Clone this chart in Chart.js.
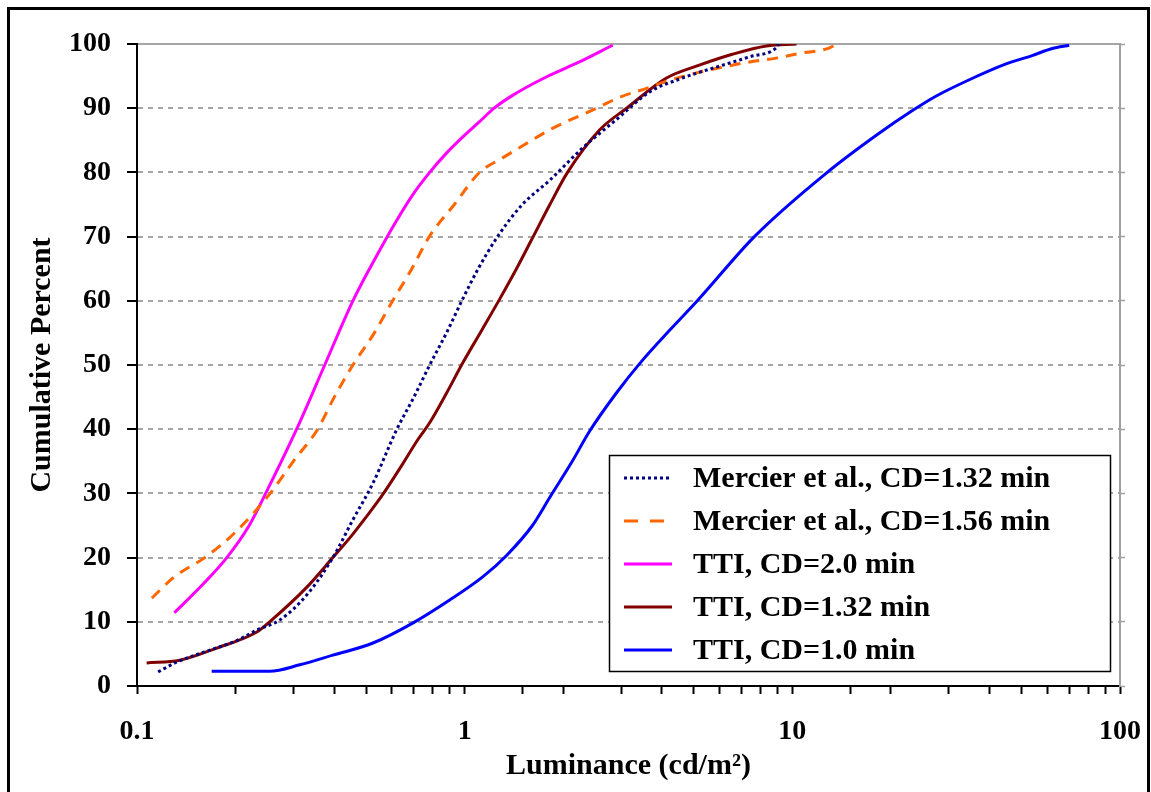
<!DOCTYPE html>
<html><head><meta charset="utf-8">
<script src="https://cdn.jsdelivr.net/npm/chart.js@4"></script>
<style>html,body{margin:0;padding:0;background:#fff}canvas{display:block}</style>
</head><body>
<canvas id="c" width="1151" height="792"></canvas>
<script>
// ---- data (luminance cd/m2, cumulative percent) ----
const seriesLabels = ['Mercier et al., CD=1.32 min','Mercier et al., CD=1.56 min','TTI, CD=2.0 min','TTI, CD=1.32 min','TTI, CD=1.0 min'];

const mercier132Lum = [0.116,0.132,0.167,0.2,0.232,0.273,0.33,0.396,0.456,0.525,0.621,0.70,0.782,0.88,0.98,1.1,1.26,1.5,1.82,2.29,2.9,3.66,4.62,5.86,7.4,8.93,9.1];
const mercier132Pct = [2.2,3.7,5.6,7.0,8.7,10.3,14.2,20,25.9,31.6,40,45,50,55,60,65,70,75,78.8,83.8,88.2,92.5,94.7,96.4,98,99.4,100];

const mercier156Lum = [0.111,0.13,0.161,0.2,0.255,0.30,0.356,0.40,0.456,0.53,0.603,0.69,0.78,0.93,1.11,1.30,1.52,1.86,2.53,2.97,3.59,4.31,5.1,6.12,7.4,8.93,10.7,13.0,13.6];
const mercier156Pct = [13.7,17,20,24,30,35,40,45,50,55,60,65,70,75,80,82.2,84.3,86.9,90,91.7,93.1,94.5,95.5,96.4,97.2,97.8,98.6,99.4,100];

const tti20Lum = [0.13,0.16,0.188,0.22,0.247,0.307,0.374,0.456,0.551,0.62,0.694,0.782,0.88,1.0,1.11,1.23,1.40,1.78,2.24,2.83];
const tti20Pct = [11.4,16,20,25,30,40,50,60,67.9,72.5,76.5,80,83,85.8,87.9,90,92,94.9,97.2,99.8];

const tti132Lum = [0.107,0.135,0.175,0.232,0.254,0.33,0.396,0.45,0.50,0.562,0.647,0.72,0.782,0.88,0.986,1.13,1.28,1.45,1.6,1.82,2.06,2.58,3.12,4.13,5.2,6.56,8.33,10.3];
const tti132Pct = [3.6,4.0,5.9,8.4,10,15.4,20,23.3,26.3,29.8,34.6,38.4,41,45.6,50.3,55.5,60.3,65.3,69.5,75,80,86.6,90,94.7,96.7,98.4,99.7,100];

const tti10Lum = [0.169,0.254,0.314,0.396,0.525,0.694,0.90,1.135,1.34,1.61,1.82,2.13,2.40,2.90,3.47,4.22,5.13,7.66,12.7,18.4,23.2,27.5,33.9,44.9,53.9,62.1,70];
const tti10Pct = [2.3,2.3,3.3,4.8,6.7,9.8,13.4,17,20.3,25,29.4,35,39.6,45.6,50.6,55.4,60,70,79.9,86.1,89.6,91.9,94.2,96.9,98.2,99.3,99.8];

const yTickValues = [0,10,20,30,40,50,60,70,80,90,100];
const xTickLabels = ['0.1','1','10','100'];
const xAxisTitle = 'Luminance (cd/m²)';
const yAxisTitle = 'Cumulative Percent';

// ---- styling ----
const FONT = "'Liberation Serif','Times New Roman',serif";
const zip = (xs, ys) => xs.map((x, i) => ({x, y: ys[i]}));
Chart.defaults.color = '#000';

const styles = [
  {color:'#000080', dash:[3,3]},
  {color:'#FF6600', dash:[11,8]},
  {color:'#FF00FF', dash:[]},
  {color:'#800000', dash:[]},
  {color:'#0000FF', dash:[]}
];
const seriesData = [
  zip(mercier132Lum, mercier132Pct),
  zip(mercier156Lum, mercier156Pct),
  zip(tti20Lum, tti20Pct),
  zip(tti132Lum, tti132Pct),
  zip(tti10Lum, tti10Pct)
];

const datasets = seriesLabels.map((label, i) => ({
  label,
  data: seriesData[i],
  borderColor: styles[i].color,
  backgroundColor: styles[i].color,
  borderDash: styles[i].dash,
  borderWidth: 3,
  pointRadius: 0,
  cubicInterpolationMode: 'monotone',
  fill: false
}));

const decorPlugin = {
  id: 'decor',
  beforeDraw(chart) {
    const c = chart.ctx;
    c.save();
    c.fillStyle = '#fff';
    c.fillRect(0, 0, chart.width, chart.height);
    c.restore();
  },
  afterDraw(chart) {
    const c = chart.ctx;
    c.save();
    const bx = 609, by = 455, bw = 501, bh = 216;
    c.fillStyle = '#fff';
    c.fillRect(bx, by, bw, bh);
    c.strokeStyle = '#000';
    c.lineWidth = 1.5;
    c.strokeRect(bx + 0.5, by + 0.5, bw, bh);
    c.font = 'bold 30px ' + FONT;
    c.textBaseline = 'middle';
    c.textAlign = 'left';
    const rows = [478, 521, 564, 607, 650];
    chart.data.datasets.forEach((ds, i) => {
      const y = rows[i];
      c.beginPath();
      c.strokeStyle = ds.borderColor;
      c.lineWidth = 3;
      c.setLineDash(i === 1 ? [14, 12] : ds.borderDash);
      c.moveTo(624, y);
      c.lineTo(672, y);
      c.stroke();
      c.setLineDash([]);
      c.fillStyle = '#000';
      c.fillText(ds.label, 693, y + 1);
    });
    c.strokeStyle = '#000';
    c.lineWidth = 3;
    c.strokeRect(8.5, 8.5, 1140, 800);
    c.restore();
  }
};

new Chart(document.getElementById('c'), {
  type: 'line',
  data: { datasets },
  plugins: [decorPlugin],
  options: {
    responsive: false,
    animation: false,
    devicePixelRatio: 1,
    layout: { padding: { left: 0, top: 44, right: 25, bottom: 0 } },
    plugins: { legend: { display: false }, tooltip: { enabled: false } },
    scales: {
      x: {
        type: 'logarithmic',
        position: 'bottom',
        min: 0.1,
        max: 100,
        afterFit: s => { s.height = 106; s.paddingLeft = 0; s.paddingRight = 0; },
        grid: { drawOnChartArea: false, drawTicks: true, tickLength: 8, tickColor: '#000', tickWidth: 2 },
        border: { color: '#000', width: 2 },
        ticks: {
          autoSkip: false,
          maxRotation: 0,
          padding: 21,
          font: { family: FONT, size: 28, weight: 'bold', lineHeight: 1.2 },
          callback: (v) => {
            const s = String(Number(v.toPrecision(6)));
            return xTickLabels.includes(s) ? s : '';
          }
        },
        title: { display: true, text: xAxisTitle, padding: { top: 0, bottom: 8 },
                 font: { family: FONT, size: 30, weight: 'bold', lineHeight: 1.2 } }
      },
      y: {
        type: 'linear',
        position: 'left',
        min: 0,
        max: 100,
        afterFit: s => { s.width = 137; },
        afterBuildTicks: s => { s.ticks = yTickValues.map(v => ({ value: v })); },
        grid: {
          color: '#a6a6a6', lineWidth: 2,
          drawTicks: true, tickLength: 10, tickColor: '#000', tickWidth: 2
        },
        border: { color: '#000', width: 2,
                  dash: ctx => (ctx.tick && ctx.tick.value !== 100) ? [5, 5] : [] },
        ticks: {
          padding: 16,
          font: { family: FONT, size: 28, weight: 'bold', lineHeight: 1.2 }
        },
        title: { display: true, text: yAxisTitle, padding: { top: 24, bottom: 0 },
                 font: { family: FONT, size: 30, weight: 'bold', lineHeight: 1.2 } }
      },
      y2: {
        type: 'linear',
        position: 'right',
        min: 0,
        max: 100,
        afterFit: s => { s.width = 6; },
        afterBuildTicks: s => { s.ticks = yTickValues.map(v => ({ value: v })); },
        grid: { drawOnChartArea: false, drawTicks: true, tickLength: 5, tickColor: '#a0a0a0', tickWidth: 1.5 },
        border: { color: '#a0a0a0', width: 2 },
        ticks: { display: false }
      }
    }
  }
});
</script>
</body></html>
